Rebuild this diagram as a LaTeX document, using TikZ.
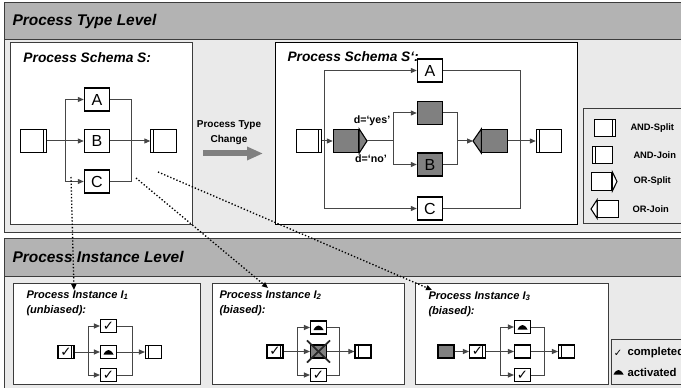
\documentclass[tikz,border=0pt]{standalone}
\usepackage{fontspec}
\setmainfont{Liberation Sans}
\newfontfamily\symfont{DejaVu Sans}
\usetikzlibrary{arrows.meta}

\definecolor{hdrgray}{RGB}{179,179,179}
\definecolor{panelgray}{RGB}{234,234,234}
\definecolor{taskgray}{RGB}{128,128,128}
\definecolor{edgegray}{RGB}{70,70,70}
\definecolor{framegray}{RGB}{60,60,60}

% mound mark of an activated step
\newcommand{\actmark}[1]{\fill ([shift={(-5,2.5)}]#1.center) .. controls ([shift={(-2,-3.5)}]#1.center) and ([shift={(2,-3.5)}]#1.center) .. ([shift={(5,2.5)}]#1.center) -- cycle;}

\tikzset{every picture/.style={line width=0.75pt}}
\tikzset{
  task/.style={draw=black, fill=white, line width=0.8pt, minimum width=19pt, minimum height=17.25pt, inner sep=0pt, font=\fontsize{12}{12}\selectfont},
  graytask/.style={task, fill=taskgray},
  andsplit/.style={task, path picture={\draw[line width=0.6pt] ([xshift=-2.2pt]path picture bounding box.north east) -- ([xshift=-2.2pt]path picture bounding box.south east);}},
  andjoin/.style={task, path picture={\draw[line width=0.6pt] ([xshift=2.2pt]path picture bounding box.north west) -- ([xshift=2.2pt]path picture bounding box.south west);}},
  lgate/.style={minimum width=15.5pt, minimum height=13.25pt},
  ibox/.style={minimum width=12pt, minimum height=9.75pt, font=\symfont\fontsize{10}{10}\selectfont},
  line/.style={draw=edgegray, line width=0.75pt},
  flow/.style={line, -{Triangle[length=4.5pt,width=3.75pt]}},
  refarrow/.style={draw=black, line width=1pt, dash pattern=on 1pt off 1.5pt, -{Triangle[length=4.5pt,width=3.75pt]}},
  bigarrow/.style={draw=taskgray, line width=4.5pt, -{Triangle[length=12pt,width=9.5pt]}},
  lvltitle/.style={anchor=west, inner sep=0pt, font=\bfseries\itshape\fontsize{11.6}{12}\selectfont},
  schtitle/.style={anchor=west, inner sep=0pt, font=\bfseries\itshape\fontsize{10.3}{11}\selectfont},
  insttitle/.style={anchor=north west, inner sep=0pt, align=left, font=\bfseries\itshape\fontsize{8.3}{11.3}\selectfont},
  chgtext/.style={inner sep=0pt, align=center, font=\bfseries\fontsize{7.5}{11.25}\selectfont},
  cond/.style={inner sep=0pt, font=\bfseries\fontsize{8}{8}\selectfont},
  legtext/.style={anchor=west, inner sep=0pt, font=\bfseries\fontsize{7}{8}\selectfont},
  legtextb/.style={anchor=west, inner sep=0pt, font=\bfseries\fontsize{8.5}{9}\selectfont}
}

\begin{document}
\begin{tikzpicture}[x=0.75pt,y=0.75pt,yscale=-1,xscale=1]
\useasboundingbox (0,0) rectangle (681,388);
\clip (0,0) rectangle (681,388);

%Shape: Rectangle [type level panel]
\draw [draw=framegray, fill=panelgray] (4,3) rectangle (700,233);
\draw [draw=framegray, fill=hdrgray] (4,3) rectangle (700,40);
% Text Node
\node [lvltitle] (typelvl) at (12,22) {Process Type Level};

%Shape: Rectangle [schema S]
\draw [draw=framegray, fill=white] (10,43) rectangle (192,225);
% Text Node
\node [schtitle] (titleS) at (23,57.5) {Process Schema S:};

%Shape: Rectangle [schema S']
\draw [draw=black, fill=white] (275,43) rectangle (577,225);
% Text Node
\node [schtitle] (titleT) at (287,57) {Process Schema S‘:};

%Shape: Rectangle [legend]
\draw [draw=framegray, fill=panelgray] (583,109) rectangle (700,224);

%Schema S
\node [andsplit] (splitS) at (33.5,141) {};
\node [task] (AS) at (97,99.5) {A};
\node [task] (BS) at (97,141) {B};
\node [task] (CS) at (97,181.5) {C};
\node [andjoin] (joinS) at (163.5,141) {};
\coordinate (forkS) at (65,141);
\coordinate (mergeS) at (131,141);

\draw [line] (splitS.east) -- (forkS);
\draw [flow] (forkS) |- (AS.west);
\draw [flow] (forkS) -- (BS.west);
\draw [flow] (forkS) |- (CS.west);
\draw [line] (AS.east) -| (mergeS);
\draw [line] (BS.east) -- (mergeS);
\draw [line] (CS.east) -| (mergeS);
\draw [flow] (mergeS) -- (joinS.west);

%Type change arrow
\node [chgtext] (chg) at (229,132.5) {Process Type\\Change};
\coordinate (chgA) at (203,153.5);
\coordinate (chgB) at (263,153.5);
\draw [bigarrow] (chgA) -- (chgB);

%Schema S'
\node [andsplit] (splitT) at (309,141) {};
\node [graytask] (orS) at (346,141) {};
\coordinate (tipS) at (367,141);
\draw [draw=black, fill=taskgray, line width=0.8pt] (orS.north east) -- (tipS) -- (orS.south east) -- cycle;
\node [task] (AT) at (430,70.5) {A};
\node [graytask] (XT) at (430,113) {};
\node [graytask] (BT) at (430,164.5) {B};
\node [task] (CT) at (430,208.5) {C};
\node [graytask] (orJ) at (494.5,141) {};
\coordinate (tipJ) at (473,141);
\draw [draw=black, fill=taskgray, line width=0.8pt] (orJ.north west) -- (tipJ) -- (orJ.south west) -- cycle;
\node [andjoin] (joinT) at (549,141) {};
\coordinate (forkT) at (324,141);
\coordinate (mergeT) at (520,141);
\coordinate (forkI) at (393,141);
\coordinate (mergeI) at (457,141);

\draw [flow] (splitT.east) -- (orS.west);
\draw [flow] (forkT) |- (AT.west);
\draw [flow] (forkT) |- (CT.west);
\draw [line] (tipS) -- (forkI);
\draw [flow] (forkI) |- (XT.west);
\draw [flow] (forkI) |- (BT.west);
\draw [line] (XT.east) -| (mergeI);
\draw [line] (BT.east) -| (mergeI);
\draw [flow] (mergeI) -- (tipJ);
\draw [flow] (orJ.east) -- (joinT.west);
\draw [line] (AT.east) -| (mergeT);
\draw [line] (CT.east) -| (mergeT);

% Text Node
\node [cond] (yes) at (372,121) {d=‘yes’};
% Text Node
\node [cond] (no) at (371,159) {d=‘no’};

%Legend
\node [andsplit, lgate] (lgAS) at (605,128) {};
\node [legtext] (txAS) at (630,128) {AND-Split};
\node [andjoin, lgate] (lgAJ) at (602.5,155) {};
\node [legtext] (txAJ) at (633,155) {AND-Join};
\node [task, lgate] (lgOS) at (601.5,181.5) {};
\coordinate (lgOStip) at (617,181.5);
\draw [draw=black, fill=white, line width=0.8pt] (lgOS.north east) -- (lgOStip) -- (lgOS.south east) -- cycle;
\node [legtext] (txOS) at (633,181.5) {OR-Split};
\node [task, lgate] (lgOJ) at (608,209) {};
\coordinate (lgOJtip) at (591,209);
\draw [draw=black, fill=white, line width=0.8pt] (lgOJ.north west) -- (lgOJtip) -- (lgOJ.south west) -- cycle;
\node [legtext] (txOJ) at (632,209) {OR-Join};

%Shape: Rectangle [instance level panel]
\draw [draw=framegray, fill=panelgray] (4,239) rectangle (700,395);
\draw [draw=framegray, fill=hdrgray] (4,239) rectangle (700,276);
% Text Node
\node [lvltitle] (instlvl) at (12,257) {Process Instance Level};

%Shape: Rectangle [instances]
\draw [draw=framegray, fill=white] (13,283) rectangle (200,384);
\draw [draw=framegray, fill=white] (212,283) rectangle (404,384);
\draw [draw=framegray, fill=white] (415,283) rectangle (608,384);
\draw [draw=framegray, fill=panelgray] (611,339) rectangle (700,384);

% Text Node
\node [insttitle] (titleI1) at (26,290) {Process Instance I\textsubscript{1}\\(unbiased):};
% Text Node
\node [insttitle] (titleI2) at (219,290) {Process Instance I\textsubscript{2}\\(biased):};
% Text Node
\node [insttitle] (titleI3) at (428,291) {Process Instance I\textsubscript{3}\\(biased):};

%Instance I1
\node [andsplit, ibox] (i1s) at (66,352) {✓};
\node [task, ibox] (i1a) at (108.5,326) {✓};
\node [task, ibox] (i1b) at (108.5,352) {};
\actmark{i1b}
\node [task, ibox] (i1c) at (108.5,375) {✓};
\node [andjoin, ibox] (i1j) at (153.5,352) {};
\coordinate (fork1) at (88,352);
\coordinate (merge1) at (132,352);
\draw [line] (i1s.east) -- (fork1);
\draw [flow] (fork1) |- (i1a.west);
\draw [flow] (fork1) -- (i1b.west);
\draw [flow] (fork1) |- (i1c.west);
\draw [line] (i1a.east) -| (merge1);
\draw [line] (i1b.east) -- (merge1);
\draw [line] (i1c.east) -| (merge1);
\draw [flow] (merge1) -- (i1j.west);

%Instance I2
\node [andsplit, ibox] (i2s) at (275,351.5) {✓};
\node [task, ibox] (i2a) at (318.5,327.5) {};
\actmark{i2a}
\node [graytask, ibox] (i2b) at (318.5,351.5) {};
\draw [draw=black!85, line width=1.3pt] ([shift={(-3,-4)}]i2b.north west) -- ([shift={(3,4)}]i2b.south east);
\draw [draw=black!85, line width=1.3pt] ([shift={(3,-4)}]i2b.north east) -- ([shift={(-3,4)}]i2b.south west);
\node [task, ibox] (i2c) at (318.5,375) {✓};
\node [andjoin, ibox] (i2j) at (363,351.5) {};
\coordinate (fork2) at (297,351.5);
\coordinate (merge2) at (339,351.5);
\draw [line] (i2s.east) -- (fork2);
\draw [flow] (fork2) |- (i2a.west);
\draw [flow] (fork2) -- (i2b.west);
\draw [flow] (fork2) |- (i2c.west);
\draw [line] (i2a.east) -| (merge2);
\draw [line] (i2b.east) -- (merge2);
\draw [line] (i2c.east) -| (merge2);
\draw [flow] (merge2) -- (i2j.west);

%Instance I3
\node [graytask, ibox] (i3g) at (446,351.5) {};
\node [andsplit, ibox] (i3s) at (477.5,351.5) {✓};
\node [task, ibox] (i3a) at (522.5,327) {};
\actmark{i3a}
\node [task, ibox] (i3b) at (522.5,351.5) {};
\node [task, ibox] (i3c) at (522.5,375) {✓};
\node [andjoin, ibox] (i3j) at (566.5,351.5) {};
\coordinate (fork3) at (500,351.5);
\coordinate (merge3) at (544,351.5);
\draw [flow] (i3g.east) -- (i3s.west);
\draw [line] (i3s.east) -- (fork3);
\draw [flow] (fork3) |- (i3a.west);
\draw [flow] (fork3) -- (i3b.west);
\draw [flow] (fork3) |- (i3c.west);
\draw [line] (i3a.east) -| (merge3);
\draw [line] (i3b.east) -- (merge3);
\draw [line] (i3c.east) -| (merge3);
\draw [flow] (merge3) -- (i3j.west);

%State legend
\node [inner sep=0pt, font=\symfont\fontsize{7.5}{7.5}\selectfont] (tick) at (618,353) {✓};
\node [legtextb] (txdone) at (627,353) {completed};
\coordinate (actkey) at (618.5,372);
\actmark{actkey}
\node [legtextb] (txact) at (627,372) {activated};

%Instance references
\coordinate (d1a) at (71,177);
\coordinate (d1b) at (74,290);
\coordinate (d2a) at (136,178);
\coordinate (d2b) at (268,288);
\coordinate (d3a) at (158,172);
\coordinate (d3b) at (432,290);
\draw [refarrow] (d1a) -- (d1b);
\draw [refarrow] (d2a) -- (d2b);
\draw [refarrow] (d3a) -- (d3b);

\end{tikzpicture}
\end{document}
